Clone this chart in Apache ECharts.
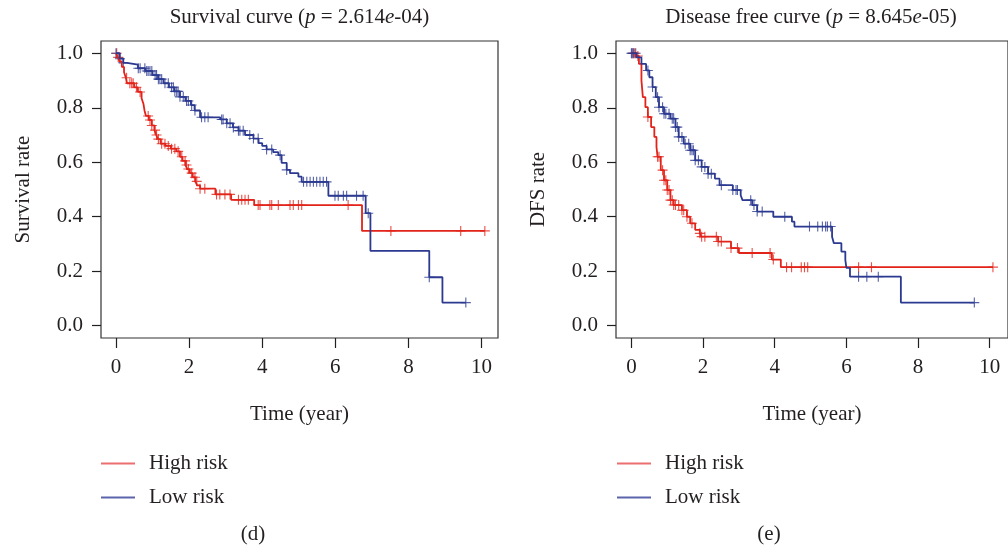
<!DOCTYPE html>
<html>
<head>
<meta charset="utf-8">
<script src="https://cdn.jsdelivr.net/npm/echarts@6/dist/echarts.min.js"></script>
<style>
  html, body { margin: 0; padding: 0; background: #fff; }
  #main { width: 1008px; height: 548px; }
</style>
</head>
<body>
<div id="main"></div>
<script>
// axis ticks
var xTicks = [0, 2, 4, 6, 8, 10];
var yTicks = [0, 0.2, 0.4, 0.6, 0.8, 1.0];

// (d) overall survival - high risk: step times and survival after each step
var osHighT = [0, 0.05, 0.1, 0.16, 0.22, 0.27, 0.3, 0.5, 0.6, 0.7, 0.75, 0.78, 0.82, 0.9, 0.98, 1.05, 1.1, 1.15, 1.22, 1.35, 1.5, 1.65, 1.75, 1.82, 1.9, 1.95, 2.02, 2.1, 2.17, 2.22, 2.3, 2.72, 3.15, 3.78, 6.73, 10.09];
var osHighS = [1.0, 0.985, 0.97, 0.95, 0.93, 0.91, 0.89, 0.875, 0.858, 0.835, 0.815, 0.79, 0.77, 0.755, 0.735, 0.718, 0.70, 0.685, 0.668, 0.66, 0.65, 0.64, 0.62, 0.605, 0.59, 0.575, 0.56, 0.545, 0.53, 0.515, 0.503, 0.482, 0.462, 0.443, 0.348, 0.348];
var osHighCens = [0.02, 0.06, 0.29, 0.38, 0.43, 0.47, 0.56, 0.66, 0.88, 0.93, 0.98, 1.07, 1.11, 1.16, 1.25, 1.34, 1.43, 1.52, 1.61, 1.70, 1.80, 1.89, 1.93, 1.98, 2.07, 2.16, 2.21, 2.30, 2.43, 2.75, 2.84, 2.98, 3.12, 3.35, 3.44, 3.53, 3.62, 3.89, 3.94, 4.21, 4.26, 4.44, 4.76, 4.85, 4.99, 5.08, 6.35, 7.52, 9.43, 10.09];

// (d) overall survival - low risk
var osLowT = [0, 0.1, 0.2, 0.3, 0.6, 0.8, 1.0, 1.15, 1.3, 1.45, 1.6, 1.75, 1.9, 2.05, 2.15, 2.3, 2.85, 3.03, 3.2, 3.35, 3.53, 3.76, 3.9, 4.0, 4.12, 4.3, 4.44, 4.53, 4.67, 4.76, 4.99, 5.08, 5.81, 6.83, 6.96, 8.57, 8.93, 9.57];
var osLowS = [1.0, 0.98, 0.965, 0.958, 0.945, 0.935, 0.92, 0.905, 0.89, 0.875, 0.86, 0.84, 0.825, 0.81, 0.79, 0.765, 0.757, 0.743, 0.728, 0.716, 0.70, 0.687, 0.67, 0.66, 0.647, 0.637, 0.626, 0.598, 0.572, 0.56, 0.547, 0.528, 0.477, 0.413, 0.275, 0.178, 0.085, 0.085];
var osLowCens = [0, 0.11, 0.2, 0.61, 0.66, 0.79, 0.84, 0.88, 0.93, 0.98, 1.07, 1.11, 1.16, 1.2, 1.25, 1.34, 1.43, 1.52, 1.57, 1.61, 1.66, 1.70, 1.75, 1.84, 1.93, 1.98, 2.07, 2.16, 2.34, 2.43, 2.52, 2.89, 2.93, 3.03, 3.12, 3.21, 3.35, 3.39, 3.48, 3.66, 3.76, 3.89, 4.12, 4.26, 4.49, 4.67, 5.13, 5.22, 5.31, 5.4, 5.49, 5.58, 5.67, 5.76, 5.99, 6.08, 6.22, 6.31, 6.58, 6.76, 6.9, 8.57, 9.57];

// (e) disease free - high risk
var dfsHighT = [0, 0.14, 0.21, 0.28, 0.32, 0.39, 0.46, 0.55, 0.64, 0.70, 0.73, 0.82, 0.91, 1.0, 1.09, 1.18, 1.41, 1.55, 1.64, 1.78, 1.91, 1.95, 2.42, 2.78, 3.0, 3.92, 4.17, 10.09];
var dfsHighS = [1.0, 0.99, 0.961, 0.9, 0.839, 0.802, 0.766, 0.729, 0.693, 0.656, 0.62, 0.571, 0.534, 0.498, 0.461, 0.443, 0.424, 0.4, 0.376, 0.352, 0.339, 0.327, 0.309, 0.285, 0.267, 0.243, 0.215, 0.215];
var dfsHighCens = [0.05, 0.09, 0.18, 0.46, 0.73, 0.77, 0.87, 0.91, 0.96, 1.0, 1.05, 1.09, 1.14, 1.18, 1.23, 1.32, 1.41, 1.46, 1.55, 1.69, 1.91, 1.96, 2.05, 2.37, 2.42, 2.51, 2.78, 2.96, 3.37, 3.87, 3.96, 4.33, 4.47, 4.74, 4.83, 4.92, 6.34, 6.7, 10.09];

// (e) disease free - low risk
var dfsLowT = [0, 0.14, 0.28, 0.41, 0.5, 0.59, 0.68, 0.77, 0.91, 1.09, 1.23, 1.32, 1.46, 1.64, 1.78, 1.96, 2.14, 2.33, 2.46, 2.83, 3.05, 3.1, 3.37, 3.51, 3.96, 4.48, 4.55, 5.6, 5.65, 5.86, 5.97, 6.0, 6.1, 7.52, 9.57];
var dfsLowS = [1.0, 0.985, 0.961, 0.937, 0.912, 0.876, 0.839, 0.802, 0.778, 0.76, 0.729, 0.693, 0.668, 0.644, 0.607, 0.583, 0.558, 0.54, 0.516, 0.498, 0.479, 0.461, 0.443, 0.419, 0.40, 0.382, 0.364, 0.327, 0.303, 0.272, 0.242, 0.212, 0.18, 0.085, 0.085];
var dfsLowCens = [0, 0.02, 0.05, 0.12, 0.46, 0.59, 0.73, 0.77, 0.87, 0.91, 0.96, 1.05, 1.14, 1.18, 1.23, 1.28, 1.32, 1.41, 1.5, 1.6, 1.64, 1.69, 1.73, 1.78, 1.87, 1.96, 2.05, 2.14, 2.23, 2.51, 2.83, 2.92, 2.96, 3.33, 3.42, 3.51, 3.65, 4.28, 4.97, 5.2, 5.33, 5.42, 5.47, 5.56, 6.34, 6.57, 6.89, 9.57];

var RED = '#e2231a';
var BLUE = '#2b3990';
var FONT = 'Liberation Serif';
var FS = 21;
var INK = '#231f20';
var PLUS = 'path://M0,4.45H10V5.55H0Z M4.45,0H5.55V10H4.45Z';

function pairs(ts, ss) {
    var out = [];
    for (var i = 0; i < ts.length; i++) out.push([ts[i], ss[i]]);
    return out;
}
// survival level at time t from the step arrays
function stepAt(ts, ss, t) {
    var s = ss[0];
    for (var i = 0; i < ts.length; i++) {
        if (ts[i] <= t) s = ss[i];
    }
    return s;
}
function censPoints(ts, ss, cens) {
    return cens.map(function (t) { return [t, stepAt(ts, ss, t)]; });
}

function curve(name, idx, ts, ss, color) {
    return {
        name: name, type: 'line', step: 'end',
        xAxisIndex: idx, yAxisIndex: idx,
        data: pairs(ts, ss), showSymbol: false, symbol: 'none',
        lineStyle: { color: color, width: 1.8 }, itemStyle: { color: color },
        animation: false
    };
}
function marks(name, idx, ts, ss, cens, color) {
    return {
        name: name, type: 'scatter',
        xAxisIndex: idx, yAxisIndex: idx,
        data: censPoints(ts, ss, cens),
        symbol: PLUS, symbolSize: 10,
        itemStyle: { color: color, opacity: 0.8 },
        animation: false
    };
}

function xAxis(idx, min, max) {
    return {
        gridIndex: idx, type: 'value', min: min, max: max,
        name: 'Time (year)', nameLocation: 'middle', nameGap: 66,
        nameTextStyle: { fontFamily: FONT, fontSize: FS, color: INK },
        axisLine: { show: false, onZero: false },
        axisTick: { show: true, length: 10, customValues: xTicks, lineStyle: { color: INK, width: 1.2 } },
        axisLabel: { customValues: xTicks, margin: 19, fontFamily: FONT, fontSize: FS, color: INK },
        splitLine: { show: false }
    };
}
function yAxis(idx, name) {
    return {
        gridIndex: idx, type: 'value', min: -0.045, max: 1.045,
        name: name, nameLocation: 'middle', nameGap: 67, nameRotate: 90,
        nameTextStyle: { fontFamily: FONT, fontSize: FS, color: INK },
        axisLine: { show: false, onZero: false },
        axisTick: { show: true, length: 9, customValues: yTicks, lineStyle: { color: INK, width: 1.2 } },
        axisLabel: {
            customValues: yTicks, margin: 18, fontFamily: FONT, fontSize: FS, color: INK,
            formatter: function (v) { return v.toFixed(1); }
        },
        splitLine: { show: false }
    };
}

var richT = {
    n: { fontFamily: FONT, fontSize: FS, fontWeight: 'normal', color: INK },
    i: { fontFamily: FONT, fontSize: FS, fontWeight: 'normal', color: INK, fontStyle: 'italic' }
};

function legend(left) {
    return {
        orient: 'vertical', left: left, top: 453, padding: 0,
        icon: 'rect', itemWidth: 34, itemHeight: 2, itemGap: 13,
        selectedMode: false,
        textStyle: { fontFamily: FONT, fontSize: FS, color: INK, lineHeight: 21, padding: [0, 0, 0, 9] },
        data: [
            { name: 'High risk', itemStyle: { color: '#ec6f70' } },
            { name: 'Low risk', itemStyle: { color: '#5b65ac' } }
        ]
    };
}

var chart = echarts.init(document.getElementById('main'));
chart.setOption({
    backgroundColor: '#fff',
    animation: false,
    title: [
        { text: '{n|Survival curve (}{i|p}{n| = 2.614}{i|e}{n|-04)}', left: 299.5, top: 7, padding: 0, textAlign: 'center', textStyle: { fontWeight: 'normal', rich: richT } },
        { text: '{n|Disease free curve (}{i|p}{n| = 8.645}{i|e}{n|-05)}', left: 811, top: 7, padding: 0, textAlign: 'center', textStyle: { fontWeight: 'normal', rich: richT } },
        { text: '(d)', left: 253, top: 524, padding: 0, textAlign: 'center', textStyle: { fontFamily: FONT, fontSize: FS, fontWeight: 'normal', color: INK } },
        { text: '(e)', left: 769, top: 524, padding: 0, textAlign: 'center', textStyle: { fontFamily: FONT, fontSize: FS, fontWeight: 'normal', color: INK } }
    ],
    legend: [legend(101), legend(617)],
    grid: [
        { left: 101, top: 41, width: 397, height: 297, show: true, borderColor: '#333', borderWidth: 1.2, backgroundColor: 'transparent' },
        { left: 616, top: 41, width: 400, height: 297, show: true, borderColor: '#333', borderWidth: 1.2, backgroundColor: 'transparent' }
    ],
    xAxis: [xAxis(0, -0.41, 10.45), xAxis(1, -0.43, 10.51)],
    yAxis: [yAxis(0, 'Survival rate'), yAxis(1, 'DFS rate')],
    series: [
        curve('High risk', 0, osHighT, osHighS, RED),
        marks('High risk', 0, osHighT, osHighS, osHighCens, RED),
        curve('Low risk', 0, osLowT, osLowS, BLUE),
        marks('Low risk', 0, osLowT, osLowS, osLowCens, BLUE),
        curve('High risk', 1, dfsHighT, dfsHighS, RED),
        marks('High risk', 1, dfsHighT, dfsHighS, dfsHighCens, RED),
        curve('Low risk', 1, dfsLowT, dfsLowS, BLUE),
        marks('Low risk', 1, dfsLowT, dfsLowS, dfsLowCens, BLUE)
    ]
});
</script>
</body>
</html>
